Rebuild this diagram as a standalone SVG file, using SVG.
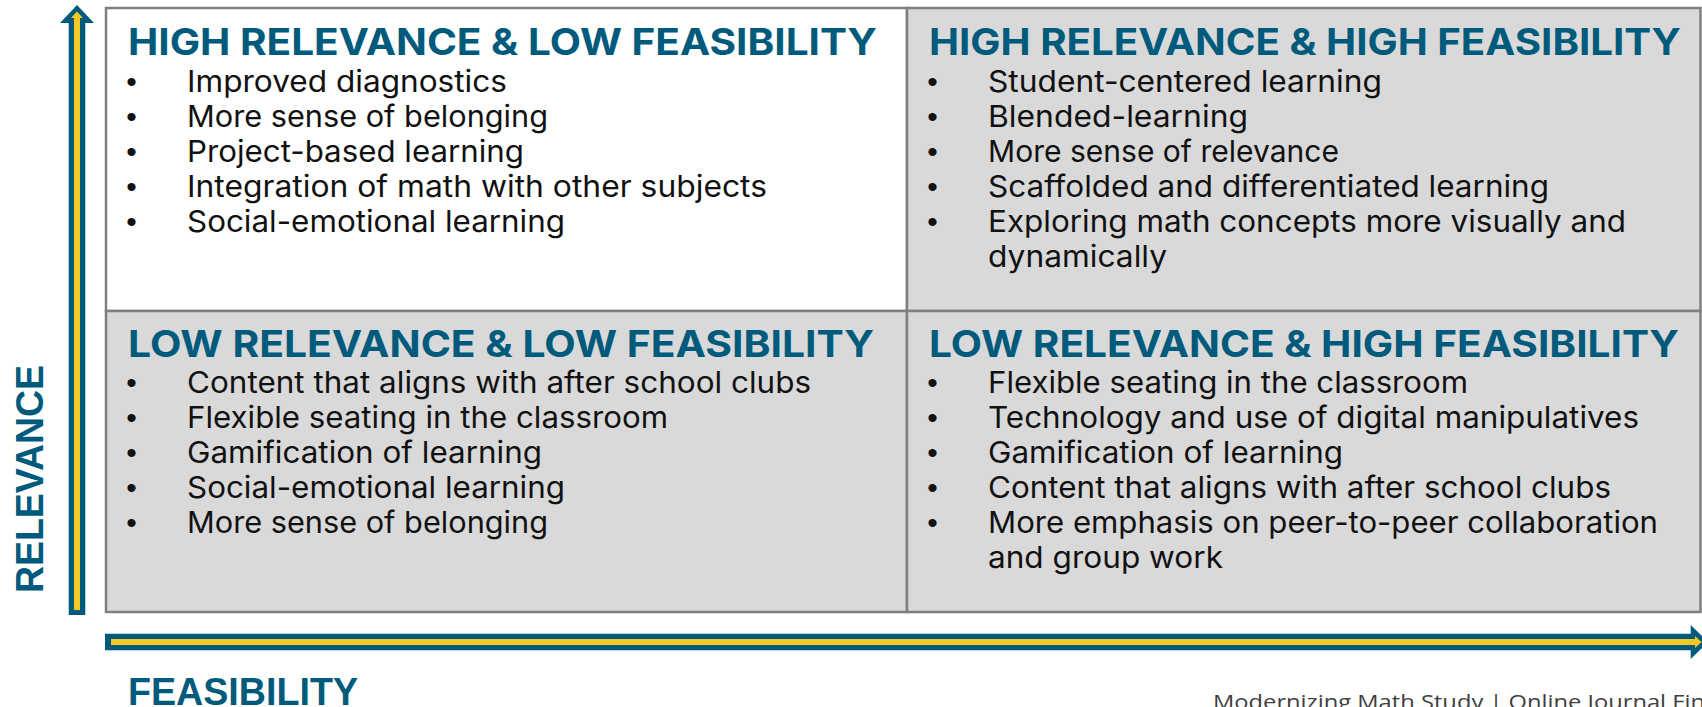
<svg xmlns="http://www.w3.org/2000/svg" width="1702" height="707" viewBox="0 0 1702 707">
  <style>
    .cell{stroke:#7f7f7f;stroke-width:2.5}
    .white{fill:#ffffff}
    .grey{fill:#d9d9d9}
    .title{font-family:Inter,"Liberation Sans",sans-serif;font-weight:700;font-size:37px;fill:#005a7c}
    .item{font-family:Inter,"Open Sans","Liberation Sans",sans-serif;font-size:30px;fill:#111111}
    .bul{font-family:"Liberation Sans",sans-serif;font-size:30px;fill:#111111;text-anchor:middle}
    .axis{font-family:"Liberation Sans",Arial,sans-serif;font-weight:700;font-size:38px;fill:#005a7c}
    .foot{font-family:"Open Sans","Liberation Sans",sans-serif;font-size:20px;fill:#404040}
    .shaft{fill:#005a7c}
    .core{fill:#f7c823}
  </style>

  <!-- high relevance, low feasibility -->
  <g id="q-high-low">
    <rect class="cell white" x="106" y="8" width="801" height="303"/>
    <text class="title" x="128" y="55" textLength="749" lengthAdjust="spacingAndGlyphs">HIGH RELEVANCE &amp; LOW FEASIBILITY</text>
    <text class="bul" x="131.5" y="91.5">•</text><text class="item" x="187" y="91.5" textLength="320" lengthAdjust="spacingAndGlyphs">Improved diagnostics</text>
    <text class="bul" x="131.5" y="126.5">•</text><text class="item" x="187" y="126.5" textLength="361" lengthAdjust="spacingAndGlyphs">More sense of belonging</text>
    <text class="bul" x="131.5" y="161.5">•</text><text class="item" x="187" y="161.5" textLength="337" lengthAdjust="spacingAndGlyphs">Project-based learning</text>
    <text class="bul" x="131.5" y="196.5">•</text><text class="item" x="187" y="196.5" textLength="580" lengthAdjust="spacingAndGlyphs">Integration of math with other subjects</text>
    <text class="bul" x="131.5" y="231.5">•</text><text class="item" x="187" y="231.5" textLength="378" lengthAdjust="spacingAndGlyphs">Social-emotional learning</text>
  </g>

  <!-- high relevance, high feasibility -->
  <g id="q-high-high">
    <rect class="cell grey" x="907" y="8" width="793.5" height="303"/>
    <text class="title" x="929" y="55" textLength="752" lengthAdjust="spacingAndGlyphs">HIGH RELEVANCE &amp; HIGH FEASIBILITY</text>
    <text class="bul" x="932.5" y="91.5">•</text><text class="item" x="988" y="91.5" textLength="394" lengthAdjust="spacingAndGlyphs">Student-centered learning</text>
    <text class="bul" x="932.5" y="126.5">•</text><text class="item" x="988" y="126.5" textLength="260" lengthAdjust="spacingAndGlyphs">Blended-learning</text>
    <text class="bul" x="932.5" y="161.5">•</text><text class="item" x="988" y="161.5" textLength="351" lengthAdjust="spacingAndGlyphs">More sense of relevance</text>
    <text class="bul" x="932.5" y="196.5">•</text><text class="item" x="988" y="196.5" textLength="561" lengthAdjust="spacingAndGlyphs">Scaffolded and differentiated learning</text>
    <text class="bul" x="932.5" y="231.5">•</text><text class="item" x="988" y="231.5" textLength="638" lengthAdjust="spacingAndGlyphs">Exploring math concepts more visually and</text>
    <text class="item" x="988" y="266.5" textLength="179" lengthAdjust="spacingAndGlyphs">dynamically</text>
  </g>

  <!-- low relevance, low feasibility -->
  <g id="q-low-low">
    <rect class="cell grey" x="106" y="311" width="801" height="301"/>
    <text class="title" x="128" y="356.5" textLength="746" lengthAdjust="spacingAndGlyphs">LOW RELEVANCE &amp; LOW FEASIBILITY</text>
    <text class="bul" x="131.5" y="392.5">•</text><text class="item" x="187" y="392.5" textLength="624" lengthAdjust="spacingAndGlyphs">Content that aligns with after school clubs</text>
    <text class="bul" x="131.5" y="427.5">•</text><text class="item" x="187" y="427.5" textLength="481" lengthAdjust="spacingAndGlyphs">Flexible seating in the classroom</text>
    <text class="bul" x="131.5" y="462.5">•</text><text class="item" x="187" y="462.5" textLength="355" lengthAdjust="spacingAndGlyphs">Gamification of learning</text>
    <text class="bul" x="131.5" y="497.5">•</text><text class="item" x="187" y="497.5" textLength="378" lengthAdjust="spacingAndGlyphs">Social-emotional learning</text>
    <text class="bul" x="131.5" y="532.5">•</text><text class="item" x="187" y="532.5" textLength="361" lengthAdjust="spacingAndGlyphs">More sense of belonging</text>
  </g>

  <!-- low relevance, high feasibility -->
  <g id="q-low-high">
    <rect class="cell grey" x="907" y="311" width="793.5" height="301"/>
    <text class="title" x="929" y="356.5" textLength="750" lengthAdjust="spacingAndGlyphs">LOW RELEVANCE &amp; HIGH FEASIBILITY</text>
    <text class="bul" x="932.5" y="392.5">•</text><text class="item" x="988" y="392.5" textLength="480" lengthAdjust="spacingAndGlyphs">Flexible seating in the classroom</text>
    <text class="bul" x="932.5" y="427.5">•</text><text class="item" x="988" y="427.5" textLength="651" lengthAdjust="spacingAndGlyphs">Technology and use of digital manipulatives</text>
    <text class="bul" x="932.5" y="462.5">•</text><text class="item" x="988" y="462.5" textLength="355" lengthAdjust="spacingAndGlyphs">Gamification of learning</text>
    <text class="bul" x="932.5" y="497.5">•</text><text class="item" x="988" y="497.5" textLength="623" lengthAdjust="spacingAndGlyphs">Content that aligns with after school clubs</text>
    <text class="bul" x="932.5" y="532.5">•</text><text class="item" x="988" y="532.5" textLength="670" lengthAdjust="spacingAndGlyphs">More emphasis on peer-to-peer collaboration</text>
    <text class="item" x="988" y="567.5" textLength="235" lengthAdjust="spacingAndGlyphs">and group work</text>
  </g>

  <!-- axis arrows -->
  <g id="axes">
    <polygon class="shaft" points="68.7,615 85.3,615 85.3,23 94,23 77,5 60,23 68.7,23"/>
    <polygon class="core" points="74,610 80,610 80,18 83,18 77,11.5 71,18 74,18"/>
    <polygon class="shaft" points="105,633.7 105,650.3 1690.7,650.3 1690.7,659 1708,642 1690.7,625 1690.7,633.7"/>
    <polygon class="core" points="111,639 111,645 1695,645 1695,648 1701.5,642 1695,636 1695,639"/>
  </g>

  <!-- axis labels -->
  <g id="axis-labels">
    <text class="axis" transform="translate(42.5,479) rotate(-90)" text-anchor="middle" textLength="228" lengthAdjust="spacingAndGlyphs">RELEVANCE</text>
    <text class="axis" x="128" y="705" textLength="230" lengthAdjust="spacingAndGlyphs">FEASIBILITY</text>
  </g>

  <text class="foot" x="1213" y="709" textLength="492" lengthAdjust="spacingAndGlyphs">Modernizing Math Study  |  Online Journal Fin</text>
</svg>
